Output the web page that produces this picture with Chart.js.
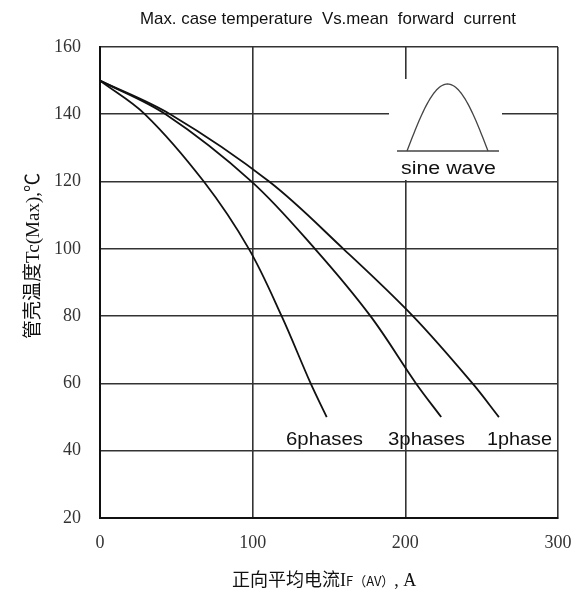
<!DOCTYPE html>
<html>
<head>
<meta charset="utf-8">
<script src="https://cdn.jsdelivr.net/npm/chart.js@4.4.1/dist/chart.umd.min.js"></script>
<style>
  html, body { margin: 0; padding: 0; background: #fff; }
  #wrap { width: 576px; height: 592px; }
</style>
</head>
<body>
<div id="wrap"><canvas id="c" width="576" height="592"></canvas></div>
<script>
// Mean forward current I_F(AV) in A, and max case temperature Tc in °C
const xTickValues = [0, 100, 200, 300];
const yTickValues = [20, 40, 60, 80, 100, 120, 140, 160];

const phase6Current = [0, 29.5, 68, 97.5, 119, 138, 148.5];
const phase6Temp    = [150, 140, 120, 100, 80, 60, 50];

const phase3Current = [0, 43, 99.3, 140.8, 177.2, 207, 223.5];
const phase3Temp    = [150, 140, 120, 100, 80, 60, 50];

const phase1Current = [0, 46, 110.8, 159.4, 205, 244, 261.3];
const phase1Temp    = [150, 140, 120, 100, 80, 60, 50];

const curveLabels = ['6phases', '3phases', '1phase'];

const toPoints = (xs, ys) => xs.map((x, i) => ({ x: x, y: ys[i] }));

const curveStyle = {
  showLine: true,
  borderColor: '#111',
  borderWidth: 1.8,
  pointRadius: 0,
  tension: 0.35,
  fill: false
};

// draws text stretched or squeezed horizontally to a given width (left aligned)
function fittedText(ctx, text, x, y, width) {
  const w = ctx.measureText(text).width;
  ctx.save();
  ctx.translate(x, y);
  ctx.scale(width / w, 1);
  ctx.textAlign = 'left';
  ctx.fillText(text, 0, 0);
  ctx.restore();
}

// Inset (sine-wave icon), gridline gap, curve captions and axis titles
const decorations = {
  id: 'decorations',
  beforeDatasetsDraw(chart) {
    const ctx = chart.ctx;
    ctx.save();
    // gap in the grid behind the inset
    ctx.fillStyle = '#fff';
    ctx.fillRect(389, 79, 113, 101);
    // half-sine icon with its baseline
    ctx.strokeStyle = '#444';
    ctx.lineWidth = 1.3;
    ctx.beginPath();
    ctx.moveTo(397, 151);
    ctx.lineTo(499, 151);
    ctx.stroke();
    const x0 = 407, x1 = 488, yb = 151, h = 67;
    ctx.beginPath();
    for (let i = 0; i <= 60; i++) {
      const t = i / 60;
      const px = x0 + (x1 - x0) * t;
      const py = yb - h * Math.sin(Math.PI * t);
      if (i === 0) ctx.moveTo(px, py); else ctx.lineTo(px, py);
    }
    ctx.stroke();
    ctx.fillStyle = '#111';
    ctx.font = '18px "Liberation Sans", Arial, sans-serif';
    ctx.textBaseline = 'alphabetic';
    fittedText(ctx, 'sine wave', 401, 174, 95);
    ctx.restore();
  },
  afterDraw(chart) {
    const ctx = chart.ctx;
    ctx.save();
    ctx.fillStyle = '#111';
    ctx.textBaseline = 'alphabetic';

    // chart title
    ctx.font = '17px "Liberation Sans", Arial, sans-serif';
    fittedText(ctx, 'Max. case temperature  Vs.mean  forward  current', 140, 24, 376);

    // curve captions
    ctx.font = '18px "Liberation Sans", Arial, sans-serif';
    fittedText(ctx, curveLabels[0], 286, 445, 77);
    fittedText(ctx, curveLabels[1], 388, 445, 77);
    fittedText(ctx, curveLabels[2], 487, 445, 65);

    // x-axis title with small subscript part
    let x = 232;
    const yBase = 586;
    const parts = [
      ['正向平均电流', '18px "Noto Sans CJK SC", sans-serif'],
      ['I', '18px "Liberation Serif", serif'],
      ['F（AV）', '13px "Noto Sans CJK SC", sans-serif'],
      [',', '18px "Liberation Serif", serif'],
      [' A', '18px "Liberation Serif", serif']
    ];
    for (const [txt, f] of parts) {
      ctx.font = f;
      ctx.fillText(txt, x, yBase);
      x += ctx.measureText(txt).width;
    }

    // y-axis title (rotated)
    const yParts = [
      ['管壳温度', '19px "Noto Sans CJK SC", sans-serif'],
      ['Tc(Max),', '19px "Liberation Serif", serif'],
      ['℃', '19px "Noto Sans CJK SC", sans-serif']
    ];
    let total = 0;
    for (const [txt, f] of yParts) { ctx.font = f; total += ctx.measureText(txt).width; }
    ctx.translate(39, 256);
    ctx.rotate(-Math.PI / 2);
    let p = -total / 2;
    for (const [txt, f] of yParts) {
      ctx.font = f;
      ctx.fillText(txt, p, 0);
      p += ctx.measureText(txt).width;
    }
    ctx.restore();
  }
};

new Chart(document.getElementById('c'), {
  type: 'scatter',
  data: {
    datasets: [
      Object.assign({ label: curveLabels[0], data: toPoints(phase6Current, phase6Temp) }, curveStyle),
      Object.assign({ label: curveLabels[1], data: toPoints(phase3Current, phase3Temp) }, curveStyle),
      Object.assign({ label: curveLabels[2], data: toPoints(phase1Current, phase1Temp) }, curveStyle)
    ]
  },
  options: {
    responsive: false,
    animation: false,
    layout: { padding: { top: 47, right: 18, left: 0, bottom: 0 } },
    plugins: {
      legend: { display: false },
      tooltip: { enabled: false },
      title: { display: false }
    },
    scales: {
      x: {
        type: 'linear',
        min: 0,
        max: 300,
        afterFit: (s) => { s.height = 74; s.paddingLeft = 0; s.paddingRight = 0; },
        afterBuildTicks: (s) => { s.ticks = xTickValues.map(v => ({ value: v })); },
        grid: { color: '#333', lineWidth: 1.6, drawTicks: false },
        border: { color: '#111', width: 2 },
        ticks: {
          padding: 14,
          color: '#333',
          font: { family: '"Liberation Serif", serif', size: 18 }
        }
      },
      y: {
        type: 'linear',
        min: 20,
        max: 160,
        afterFit: (s) => { s.width = 100; s.paddingTop = 0; s.paddingBottom = 0; },
        afterBuildTicks: (s) => { s.ticks = yTickValues.map(v => ({ value: v })); },
        grid: { color: '#333', lineWidth: 1.6, drawTicks: false },
        border: { color: '#111', width: 2 },
        ticks: {
          padding: 19,
          color: '#333',
          font: { family: '"Liberation Serif", serif', size: 18 }
        }
      }
    }
  },
  plugins: [decorations]
});
</script>
</body>
</html>
